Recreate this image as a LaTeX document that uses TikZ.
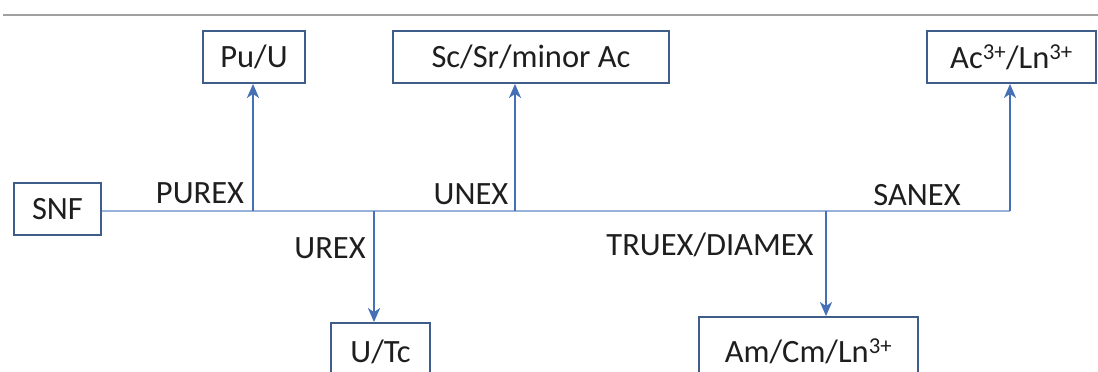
\documentclass[tikz,border=0pt]{standalone}
\usepackage{fontspec}
\setmainfont{Carlito}
\usetikzlibrary{arrows.meta}
\definecolor{boxline}{HTML}{3E5D8A}
\definecolor{arrowblue}{HTML}{4670B6}
\definecolor{mainline}{HTML}{98B2DC}
\definecolor{rule}{HTML}{A0A0A0}
\definecolor{txt}{HTML}{1E1E1E}
\begin{document}
\begin{tikzpicture}[x=1pt,y=-1pt,
  every node/.style={font=\fontsize{32.5}{38}\selectfont, text=txt, inner sep=0pt},
  stream/.style={draw=boxline, line width=1.8pt, minimum height=52pt},
  route/.style={draw=arrowblue, line width=2.6pt, -{Stealth[length=14pt,width=12pt,inset=4pt]}},
  feed/.style={draw=mainline, line width=2pt},
  proc/.style={anchor=center}]
\useasboundingbox (0,0) rectangle (1098,372);
% header rule
\draw[rule, line width=2.4pt] (3,15) -- (1098,15);
% product and feed boxes
\node[stream, minimum width=87pt]  (snf) at (57.5,209) {SNF};
\node[stream, minimum width=102pt] (pu)  at (254,57)   {Pu/U};
\node[stream, minimum width=276pt] (sc)  at (531,57)   {Sc/Sr/minor Ac};
\node[stream, minimum width=169pt] (ac)  at (1011.5,57) {Ac\textsuperscript{3+}/Ln\textsuperscript{3+}};
\node[stream, minimum width=99pt, minimum height=58pt]  (utc) at (380.5,352) {U/Tc};
\node[stream, minimum width=219pt, minimum height=68pt] (am)  at (808.5,351) {Am/Cm/Ln\textsuperscript{3+}};
% branch points on the process line
\coordinate (j1) at (253,211);
\coordinate (j2) at (374,211);
\coordinate (j3) at (515,211);
\coordinate (j4) at (826,211);
\coordinate (j5) at (1010,211);
% process line
\draw[feed] (snf.east |- j1) -- (j5);
% separations
\draw[route] (j1) -- (j1 |- pu.south);
\draw[route] (j2) -- (j2 |- utc.north);
\draw[route] (j3) -- (j3 |- sc.south);
\draw[route] (j4) -- (j4 |- am.north);
\draw[route] (j5) -- (j5 |- ac.south);
% process labels
\node[proc] (purex) at (200,193) {PUREX};
\node[proc] (urex)  at (330,248) {UREX};
\node[proc] (unex)  at (471,194) {UNEX};
\node[proc] (sanex) at (917,195) {SANEX};
\node[proc] (truex) at (710,245) {TRUEX/DIAMEX};
\end{tikzpicture}
\end{document}
